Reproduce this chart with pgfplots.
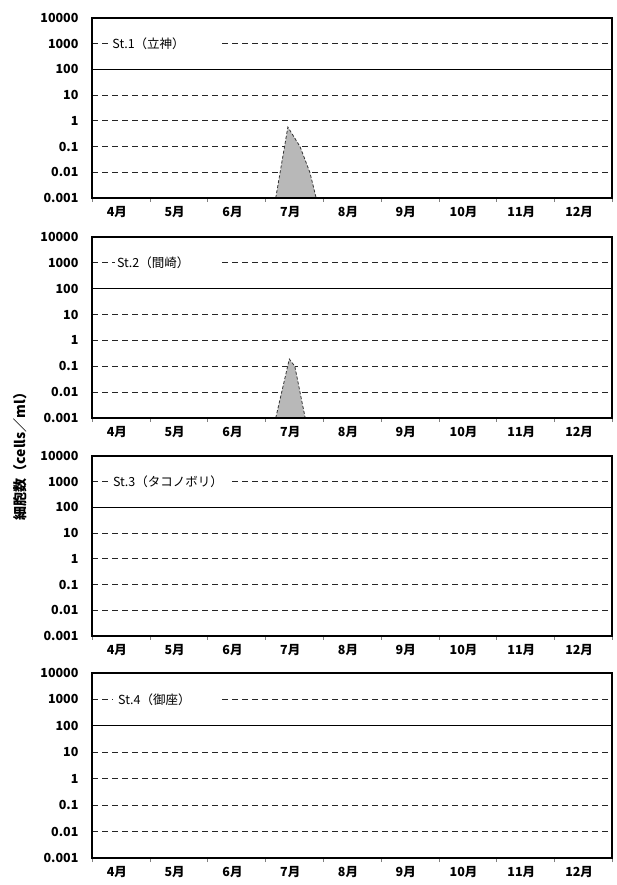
\documentclass[border=0pt]{standalone}
\usepackage{fontspec}
\setmainfont{Noto Sans CJK JP}
\usepackage{pgfplots}
\pgfplotsset{compat=1.18}

\pgfplotsset{
  panel/.style={
    anchor=south west,
    scale only axis, width=520pt,
    xmin=0, xmax=9, ymin=0.001, ymax=10000,
    xtick={0,...,9}, x tick label as interval,
    xticklabels={4月,5月,6月,7月,8月,9月,10月,11月,12月},
    xticklabel style={font=\fontsize{12.5}{14}\selectfont\bfseries, xshift=-4pt, yshift=-1pt},
    xtick pos=bottom, tick align=outside, major tick length=4pt,
    ytick={0.001,0.01,0.1,1,10,100,1000,10000},
    yticklabels={0.001,0.01,0.1,1,10,100,1000,10000},
    yticklabel style={font=\fontsize{12.5}{14}\selectfont\bfseries, xshift=-6pt},
    ytick style={draw=none},
    ymajorgrids,
    major grid style={black!85, line width=1.1pt, dash pattern=on 6pt off 4pt},
    extra y ticks={100}, extra y tick labels={},
    extra y tick style={grid=major, major grid style={solid, black, line width=1.1pt}},
    axis line style={line width=1.2pt},
  }
}

\begin{document}
\begin{tikzpicture}
\path[use as bounding box] (0,0) rectangle (617pt,885pt);

% Panel 1
\begin{axis}[ymode=log, panel, at={(92pt,687pt)}, height=180pt]
  \addplot[fill=black!28, draw=black!80, line width=0.8pt, dash pattern=on 3pt off 2pt]
    coordinates {(3.18,0.001) (3.39,0.57) (3.60,0.1) (3.77,0.01) (3.88,0.001)};
  \addplot[black, line width=2.5pt] coordinates {(0,0.001) (9,0.001)};
  \fill[white] (axis cs:0.28,420) rectangle (axis cs:2.18,2400);
  \node[anchor=west, font=\fontsize{12.5}{14}\selectfont, inner sep=0pt] at (axis cs:0.35,1000) {St.1（立神）};
\end{axis}

% Panel 2
\begin{axis}[ymode=log, panel, at={(92pt,467pt)}, height=181pt]
  \addplot[fill=black!28, draw=black!80, line width=0.8pt, dash pattern=on 3pt off 2pt]
    coordinates {(3.18,0.001) (3.415,0.19) (3.51,0.1) (3.60,0.01) (3.69,0.001)};
  \addplot[black, line width=2.5pt] coordinates {(0,0.001) (9,0.001)};
  \fill[white] (axis cs:0.40,420) rectangle (axis cs:2.18,2400);
  \node[anchor=west, font=\fontsize{12.5}{14}\selectfont, inner sep=0pt] at (axis cs:0.43,1000) {St.2（間崎）};
\end{axis}

% Panel 3
\begin{axis}[ymode=log, panel, at={(92pt,249pt)}, height=180pt]
  \addplot[black, line width=1.5pt, dotted] coordinates {(0,0.001) (9,0.001)};
  \fill[white] (axis cs:0.28,420) rectangle (axis cs:2.37,2400);
  \node[anchor=west, font=\fontsize{12.5}{14}\selectfont, inner sep=0pt] at (axis cs:0.36,1000) {St.3（タコノボリ）};
\end{axis}

% Panel 4
\begin{axis}[ymode=log, panel, at={(92pt,27pt)}, height=185pt]
  \fill[white] (axis cs:0.36,420) rectangle (axis cs:2.25,2400);
  \node[anchor=west, font=\fontsize{12.5}{14}\selectfont, inner sep=0pt] at (axis cs:0.45,1000) {St.4（御座）};
\end{axis}

\node[rotate=90, font=\fontsize{14}{16}\selectfont\bfseries] at (20pt,432pt) {細胞数（cells／ml）};
\end{tikzpicture}
\end{document}
